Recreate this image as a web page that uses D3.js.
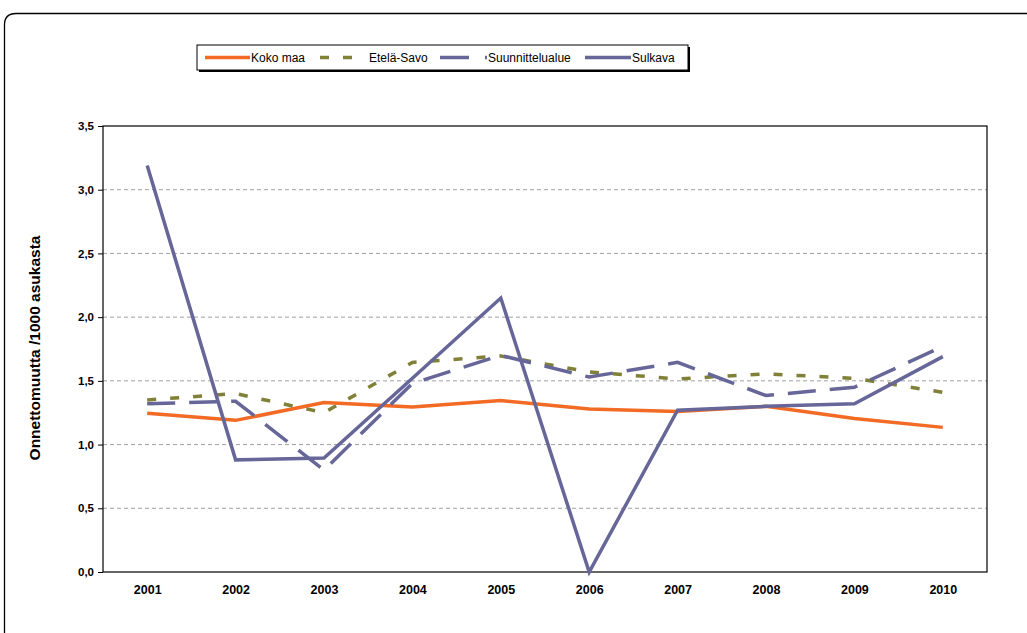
<!DOCTYPE html>
<html><head><meta charset="utf-8">
<script src="https://cdn.jsdelivr.net/npm/d3@7"></script>
<style>body{margin:0;background:#fff}svg{display:block}text{font-family:"Liberation Sans",Arial,sans-serif}</style>
</head><body>
<script>
const years = ["2001","2002","2003","2004","2005","2006","2007","2008","2009","2010"];
const kokoMaa = [1.245,1.19,1.33,1.295,1.345,1.28,1.26,1.30,1.205,1.135];
const etelaSavo = [1.35,1.40,1.25,1.645,1.695,1.57,1.515,1.555,1.52,1.41];
const suunnittelualue = [1.32,1.34,0.80,1.48,1.70,1.53,1.645,1.385,1.45,1.77];
const sulkava = [3.19,0.88,0.895,1.52,2.15,0.0,1.27,1.30,1.32,1.69];
const yTicks = [0,0.5,1,1.5,2,2.5,3,3.5];
const seriesNames = ["Koko maa","Etelä-Savo","Suunnittelualue","Sulkava"];

const W=1027,H=633;
const svg=d3.select("body").append("svg").attr("width",W).attr("height",H);
const L=103,R=987,T=126,B=572;
const x=d3.scalePoint().domain(years).range([L,R]).padding(0.5);
const y=d3.scaleLinear().domain([0,3.5]).range([B,T]);

// outer rounded border
svg.append("path").attr("d",`M4.5,${H+5} L4.5,25 Q4.5,13.5 16,13.5 L${W+5},13.5`)
  .attr("fill","none").attr("stroke","#000").attr("stroke-width",1.3);

// gridlines
svg.append("g").selectAll("line").data(yTicks.filter(d=>d>0&&d<3.5)).join("line")
  .attr("x1",L).attr("x2",R).attr("y1",d=>y(d)).attr("y2",d=>y(d))
  .attr("stroke","#a0a0a0").attr("stroke-width",1).attr("stroke-dasharray","4,3");

// plot frame
svg.append("rect").attr("x",L).attr("y",T).attr("width",R-L).attr("height",B-T)
  .attr("fill","none").attr("stroke","#000").attr("stroke-width",1.2);

// y axis
const yAxis=d3.axisLeft(y).tickValues(yTicks).tickSize(5).tickSizeOuter(0)
  .tickFormat(d=>d3.format(".1f")(d).replace(".",","));
const gy=svg.append("g").attr("transform",`translate(${L},0)`).call(yAxis);
gy.select(".domain").remove();
gy.selectAll("text").attr("font-size",11.5).attr("font-weight","bold").attr("fill","#000").attr("dx",-1);
gy.selectAll("line").attr("stroke","#000");

// x axis labels
const xAxis=d3.axisBottom(x).tickSize(0).tickPadding(13);
const gx=svg.append("g").attr("transform",`translate(0,${B})`).call(xAxis);
gx.select(".domain").remove();
gx.selectAll("text").attr("font-size",12.5).attr("font-weight","bold").attr("fill","#000");

// y title
svg.append("text").attr("transform",`translate(40,${(T+B)/2-1}) rotate(-90)`)
  .attr("text-anchor","middle").attr("font-size",15.5).attr("font-weight","bold").text("Onnettomuutta /1000 asukasta");

const line=d3.line().x((d,i)=>x(years[i])).y(d=>y(d));
const styles=[
  {data:kokoMaa,color:"#F26A24",dash:null},
  {data:etelaSavo,color:"#808038",dash:"9,14"},
  {data:suunnittelualue,color:"#666699",dash:"28,14"},
  {data:sulkava,color:"#666699",dash:null}
];
styles.forEach(s=>{
  svg.append("path").attr("d",line(s.data)).attr("fill","none")
    .attr("stroke",s.color).attr("stroke-width",3.5).attr("stroke-linejoin","miter")
    .attr("stroke-dasharray",s.dash);
});

// legend
const lg=svg.append("g");
lg.append("rect").attr("x",199).attr("y",47).attr("width",491).attr("height",25).attr("fill","#000");
lg.append("rect").attr("x",197).attr("y",45).attr("width",491).attr("height",25).attr("fill","#fff").attr("stroke","#000").attr("stroke-width",1);
const legItems=[
  {x1:205,x2:250,tx:251,color:"#F26A24",dash:null},
  {x1:320,x2:355,tx:369,color:"#808038",dash:"9,14"},
  {x1:440,x2:487,tx:488,color:"#666699",dash:"29,16"},
  {x1:585,x2:631,tx:632,color:"#666699",dash:null}
];
legItems.forEach((it,i)=>{
  lg.append("line").attr("x1",it.x1).attr("x2",it.x2).attr("y1",57.5).attr("y2",57.5)
    .attr("stroke",it.color).attr("stroke-width",3.5).attr("stroke-dasharray",it.dash);
  lg.append("text").attr("x",it.tx).attr("y",61.5).attr("font-size",12).attr("fill","#000").text(seriesNames[i]);
});
</script>
</body></html>
